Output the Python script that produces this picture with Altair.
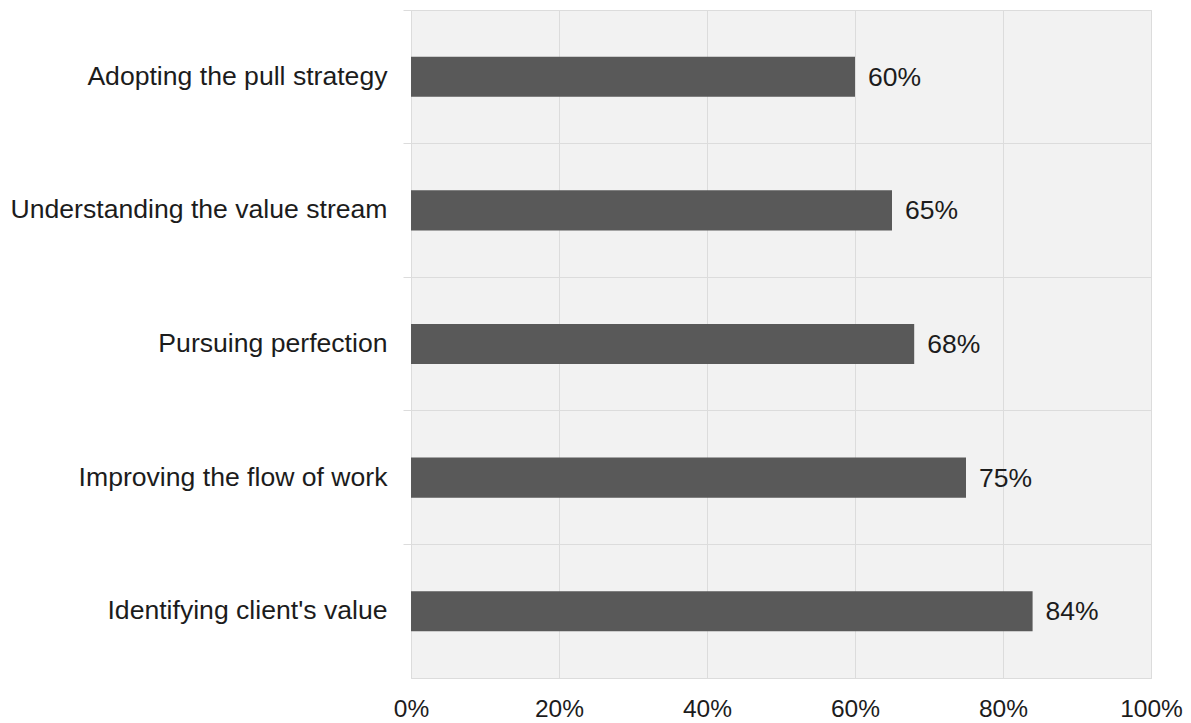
import altair as alt
import pandas as pd

categories = [
    "Adopting the pull strategy",
    "Understanding the value stream",
    "Pursuing perfection",
    "Improving the flow of work",
    "Identifying client's value",
]
values = [0.60, 0.65, 0.68, 0.75, 0.84]
value_labels = ["60%", "65%", "68%", "75%", "84%"]
x_ticks = [0, 0.2, 0.4, 0.6, 0.8, 1.0]

df = pd.DataFrame({"cat": categories, "val": values, "lab": value_labels})

FONT = "Liberation Sans"
GRID = "#dcdcdc"
TEXT = "#1c1c1c"

y_enc = alt.Y(
    "cat:N",
    sort=categories,
    scale=alt.Scale(paddingInner=0, paddingOuter=0),
    axis=alt.Axis(
        title=None,
        grid=True,
        gridColor=GRID,
        bandPosition=0,
        ticks=True,
        tickSize=8,
        tickColor=GRID,
        domain=False,
        labelFont=FONT,
        labelFontSize=26.6,
        labelColor=TEXT,
        labelPadding=16,
        labelLimit=600,
        labelBound=False,
    ),
)

x_enc = alt.X(
    "val:Q",
    scale=alt.Scale(domain=[0, 1]),
    axis=alt.Axis(
        title=None,
        format=".0%",
        values=x_ticks,
        grid=True,
        gridColor=GRID,
        ticks=False,
        domain=True,
        domainColor=GRID,
        labelFont=FONT,
        labelFontSize=24.5,
        labelColor=TEXT,
        labelPadding=19,
        labelFlush=False,
    ),
)

bars = alt.Chart(df).mark_bar(color="#595959", height={"band": 0.3}).encode(x=x_enc, y=y_enc)

text = alt.Chart(df).mark_text(
    align="left", baseline="middle", dx=13, dy=1, font=FONT, fontSize=26.5, color=TEXT
).encode(x="val:Q", y=alt.Y("cat:N", sort=categories), text="lab:N")

chart = (
    (bars + text)
    .properties(
        width=740,
        height=668,
        autosize=alt.AutoSizeParams(type="none"),
        padding={"left": 411, "top": 10, "right": 40, "bottom": 45},
        background="white",
    )
    .configure_view(fill="#f2f2f2", stroke=GRID)
)

chart.save("out.html", embed_options={"renderer": "svg", "actions": False})
